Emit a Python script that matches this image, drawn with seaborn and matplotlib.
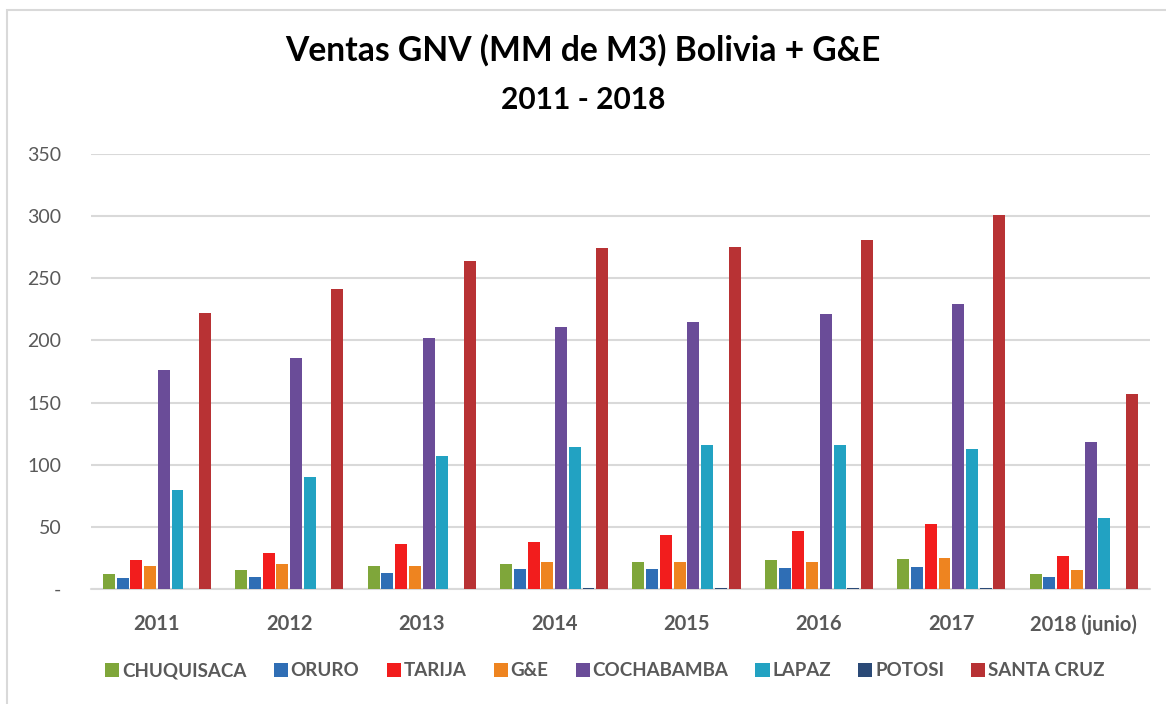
import pandas as pd
import numpy as np
import seaborn as sns
import matplotlib.pyplot as plt
from matplotlib.patches import Rectangle, Patch

# datos (MM de M3)
years = ['2011', '2012', '2013', '2014', '2015', '2016', '2017', '2018 (junio)']
chuquisaca = [12, 15, 18.5, 20, 21.5, 23, 24, 12]
oruro = [8.5, 9.5, 13, 16, 16, 17, 17.5, 9.5]
tarija = [23, 29, 36, 38, 43.5, 47, 52, 26.5]
gye = [18.5, 20, 18.5, 21.5, 21.5, 21.5, 25, 15]
cochabamba = [176, 186, 202, 211, 215, 221, 229, 118]
lapaz = [79.5, 90, 107, 114, 116, 115.5, 113, 57]
potosi = [0, 0, 0, 1, 1, 1, 1, 0]
santa_cruz = [222, 241, 264, 274, 275.5, 280.5, 301, 156.5]

regions = ['CHUQUISACA', 'ORURO', 'TARIJA', 'G&E', 'COCHABAMBA', 'LAPAZ', 'POTOSI', 'SANTA CRUZ']
colors = ['#7FA63A', '#2F6EB5', '#F21D1D', '#EE8420', '#6A4C98', '#22A2C2', '#2B4A77', '#B83234']

series = [chuquisaca, oruro, tarija, gye, cochabamba, lapaz, potosi, santa_cruz]
rows = []
for reg, vals in zip(regions, series):
    for y, v in zip(years, vals):
        rows.append({'anio': y, 'region': reg, 'ventas': v})
df = pd.DataFrame(rows)

sns.set_style('white')
plt.rcParams['font.family'] = ['Lato', 'DejaVu Sans']

fig = plt.figure(figsize=(11.66, 7.04), dpi=100)
ax = fig.add_axes([90.7 / 1166, 1 - 589 / 704, (1150 - 90.7) / 1166, (589 - 154) / 704])

palette = dict(zip(regions, colors))
sns.barplot(data=df, x='anio', y='ventas', hue='region', hue_order=regions,
            order=years, palette=palette, width=0.83, gap=0.13,
            saturation=1, legend=False, ax=ax, edgecolor='none')

ax.set_ylim(0, 350)
ax.set_xlim(-0.5, len(years) - 0.5)
ticks = [0, 50, 100, 150, 200, 250, 300, 350]
ax.set_yticks(ticks)
ax.set_yticklabels(['-'] + [str(t) for t in ticks[1:]])
ax.yaxis.grid(True, color='#D9D9D9', linewidth=1.5)
ax.set_axisbelow(True)
for s in ax.spines.values():
    s.set_visible(False)
ax.axhline(0, color='#D9D9D9', linewidth=1.5, zorder=0.5, clip_on=False)
ax.tick_params(axis='y', length=0, pad=21, labelsize=14, labelcolor='#595959')
ax.tick_params(axis='x', length=0, pad=18, labelsize=14.5, labelcolor='#595959')
for lbl in ax.get_xticklabels():
    lbl.set_fontweight('bold')
ax.set_xlabel('')
ax.set_ylabel('')

fig.text(0.5, 1 - 50 / 704, 'Ventas GNV (MM de M3) Bolivia + G&E', ha='center', va='center',
         fontsize=24.2, fontweight='bold', color='black')
fig.text(0.5, 1 - 100 / 704, '2011 - 2018', ha='center', va='center',
         fontsize=21.5, fontweight='bold', color='black')

handles = [Patch(facecolor=c, edgecolor='none') for c in colors]
fig.legend(handles, regions, loc='center', bbox_to_anchor=(605 / 1166, 1 - 671 / 704), ncol=8,
           frameon=False, handlelength=0.75, handleheight=0.8, handletextpad=0.15,
           columnspacing=1.45, prop={'size': 13.5, 'weight': 'bold'}, labelcolor='#595959')

# marco del grafico
fig.patches.append(Rectangle((7 / 1166, -0.1), 1.2, 1 - 10 / 704 + 0.1, transform=fig.transFigure,
                             fill=False, edgecolor='#D9D9D9', linewidth=1.5))

fig.savefig('out.png', dpi=100)
